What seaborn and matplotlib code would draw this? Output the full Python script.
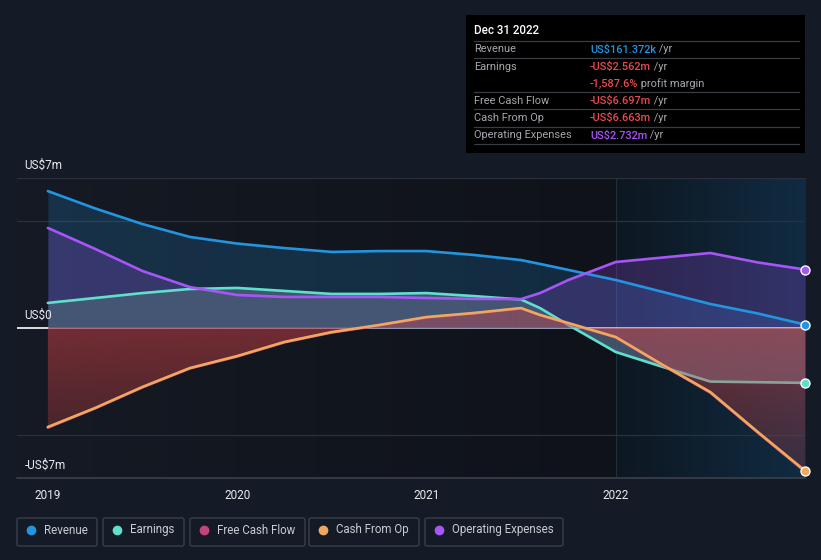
import numpy as np
import pandas as pd
import matplotlib
matplotlib.use("Agg")
import matplotlib.pyplot as plt
from matplotlib.colors import to_rgb
from matplotlib.patches import FancyBboxPatch, Rectangle
import seaborn as sns

# ---------------- data (US$ millions) ----------------
years = [2019.0, 2019.25, 2019.5, 2019.75, 2020.0, 2020.25, 2020.5, 2020.75,
         2021.0, 2021.25, 2021.5, 2021.6, 2021.75, 2022.0, 2022.25, 2022.5,
         2022.75, 2023.0]
revenue = [6.39, 5.58, 4.85, 4.25, 3.94, 3.73, 3.55, 3.59, 3.59, 3.41, 3.17,
           2.99, 2.71, 2.24, 1.68, 1.12, 0.68, 0.16]
earnings = [1.17, 1.40, 1.63, 1.82, 1.87, 1.73, 1.59, 1.59, 1.63, 1.49, 1.33,
            0.93, 0.14, -1.12, -1.82, -2.50, -2.53, -2.56]
free_cash_flow = [-4.65, -3.75, -2.77, -1.89, -1.33, -0.67, -0.21, 0.12, 0.49,
                  0.68, 0.91, 0.59, 0.21, -0.44, -1.75, -3.02, -4.88, -6.70]
cash_from_op = [-4.62, -3.73, -2.75, -1.87, -1.31, -0.65, -0.19, 0.14, 0.51,
                0.70, 0.93, 0.61, 0.23, -0.42, -1.73, -2.99, -4.85, -6.66]
operating_expenses = [4.67, 3.69, 2.66, 1.91, 1.54, 1.45, 1.45, 1.45, 1.40,
                      1.36, 1.35, 1.63, 2.24, 3.08, 3.29, 3.50, 3.06, 2.73]

series_names = ["Revenue", "Earnings", "Free Cash Flow", "Cash From Op",
                "Operating Expenses"]
series_colors = ["#2394df", "#5fe0cc", "#c2457c", "#f0a85e", "#a855f7"]
year_ticks = [2019, 2020, 2021, 2022]
year_labels = ["2019", "2020", "2021", "2022"]
y_ticks = [7, 0, -7]
y_labels = ["US$7m", "US$0", "-US$7m"]

tooltip_title = "Dec 31 2022"
tooltip_rows = [
    ("Revenue", "US$161.372k", " /yr", "#2394df"),
    ("Earnings", "-US$2.562m", " /yr", "#e84c4c"),
    ("", "-1,587.6%", " profit margin", "#e84c4c"),
    ("Free Cash Flow", "-US$6.697m", " /yr", "#e84c4c"),
    ("Cash From Op", "-US$6.663m", " /yr", "#e84c4c"),
    ("Operating Expenses", "US$2.732m", " /yr", "#a855f7"),
]

values = [revenue, earnings, free_cash_flow, cash_from_op, operating_expenses]
df = pd.concat([pd.DataFrame({"year": years, "value": v, "series": n})
                for n, v in zip(series_names, values)], ignore_index=True)

# ---------------- style ----------------
sns.set_theme(style="dark")
plt.rcParams["font.family"] = ["Roboto", "DejaVu Sans"]
BG = "#151b26"

fig = plt.figure(figsize=(8.21, 5.60), dpi=100, facecolor=BG)
W, H = 821, 560
ax = fig.add_axes([17 / W, 1 - 478 / H, (805 - 17) / W, 300 / H])
ax.set_facecolor(BG)
x0, x1 = 2018.837, 2023.0
ax.set_xlim(x0, x1)
ax.set_ylim(-7, 7)

def hgrad(c_left, c_right, n=256):
    a = np.array(to_rgb(c_left)); b = np.array(to_rgb(c_right))
    t = np.linspace(0, 1, n)[None, :, None]
    return a + (b - a) * t

ax.imshow(hgrad("#151a24", "#0f1219"), extent=[x0, 2022.0, -7, 7],
          aspect="auto", zorder=0, interpolation="bilinear")
ax.imshow(hgrad("#0d1721", "#112b42"), extent=[2022.0, x1, -7, 7],
          aspect="auto", zorder=0, interpolation="bilinear")
ax.axvline(2022.0, color="#1f2e3c", lw=0.8, zorder=0.5)

for gy in [7, 5, -5]:
    ax.axhline(gy, color="#2a313c", lw=0.9, zorder=0.6)
ax.axhline(-7, color="#3a414c", lw=1.2, zorder=0.6, clip_on=False)
ax.axhline(0, color="#ffffff", lw=1.2, zorder=0.8)

col = dict(zip(series_names, series_colors))
ax.fill_between(years, revenue, 0, color=col["Revenue"], alpha=0.20, lw=0, zorder=1)
ax.fill_between(years, operating_expenses, 0, color=col["Operating Expenses"],
                alpha=0.22, lw=0, zorder=1.1)
ax.fill_between(years, earnings, 0, color="#485c76", alpha=0.85, lw=0, zorder=1.2)

# gradient red fill for free cash flow
poly = ax.fill_between(years, free_cash_flow, 0, color="none", lw=0, zorder=3)
ny = 300
yy = np.linspace(7, -7, ny)
rgba = np.zeros((ny, 2, 4))
rgba[..., :3] = to_rgb("#d24246")
alpha = np.where(yy >= 0, 0.38, 0.50 - 0.32 * (-yy / 7.0))
rgba[..., 3] = alpha[:, None]
im = ax.imshow(rgba, extent=[x0, x1, -7, 7], aspect="auto", zorder=3,
               interpolation="bilinear")
im.set_clip_path(poly.get_paths()[0], transform=ax.transData)

zorders = {"Revenue": 4, "Earnings": 2, "Free Cash Flow": 4, "Cash From Op": 5,
           "Operating Expenses": 6}
for name in series_names:
    sub = df[df["series"] == name]
    sns.lineplot(data=sub, x="year", y="value", ax=ax, color=col[name], lw=1.9,
                 legend=False, zorder=zorders[name], solid_capstyle="round",
                 solid_joinstyle="round")
    if name != "Free Cash Flow":
        ax.scatter([sub["year"].iloc[-1]], [sub["value"].iloc[-1]], s=42,
                   color=col[name], edgecolor="white", linewidth=1.0,
                   zorder=10, clip_on=False)

ax.set_xlabel(""); ax.set_ylabel("")
for s in ax.spines.values():
    s.set_visible(False)
ax.set_xticks(year_ticks)
ax.set_xticklabels(year_labels, color="#e8eaee", fontsize=8.5)
ax.tick_params(axis="x", length=4, color="#3a414c", pad=4, width=1)
ax.set_yticks([])
for v, lab in zip(y_ticks, y_labels):
    ax.text(2018.877, v + 0.28, lab, color="#e8eaee", fontsize=8.5,
            ha="left", va="bottom", zorder=11)

# ---------------- tooltip ----------------
fig.patches.append(Rectangle((466 / W, 1 - 153 / H), (805 - 466) / W, 138 / H,
                             transform=fig.transFigure, facecolor="#000000",
                             edgecolor="none", zorder=20))
fig.text(474 / W, 1 - 31 / H, tooltip_title, color="white", fontsize=8.3,
         fontweight="medium", va="center", zorder=21)
for yl in [41, 58, 92, 109, 126.5, 144]:
    fig.add_artist(plt.Line2D([474 / W, 799 / W], [1 - yl / H, 1 - yl / H],
                              color="#3a3d44", lw=0.9, zorder=21))
row_y = [49.5, 66.5, 83.5, 100.5, 118, 135.5]
fig.canvas.draw()
renderer = fig.canvas.get_renderer()
for (lab, val, suf, c), yl in zip(tooltip_rows, row_y):
    if lab:
        fig.text(474 / W, 1 - yl / H, lab, color="#a4a8ae", fontsize=7.9,
                 va="center", zorder=21)
    t = fig.text(590 / W, 1 - yl / H, val, color=c, fontsize=7.9,
                 va="center", zorder=21, fontweight="medium")
    bb = t.get_window_extent(renderer=renderer)
    fig.text(bb.x1 / W, 1 - yl / H, suf, color="#a4a8ae", fontsize=7.9,
             va="center", zorder=21)

# ---------------- legend ----------------
boxes = [(17, 97), (103, 184), (190, 305), (309, 419), (425, 563)]
for (bx0, bx1), name in zip(boxes, series_names):
    fig.patches.append(FancyBboxPatch((bx0 / W, 1 - 546 / H), (bx1 - bx0) / W,
                                      28 / H, boxstyle="round,pad=0,rounding_size=0.003",
                                      transform=fig.transFigure, facecolor="none",
                                      edgecolor="#3a404a", lw=1.0))
    fig.add_artist(plt.Line2D([(bx0 + 14) / W], [1 - 530 / H], marker="o",
                              markersize=6, color=col[name], lw=0))
    fig.text((bx0 + 27) / W, 1 - 530 / H, name, color="#c8ccd2", fontsize=8.3,
             va="center")

fig.savefig("out.png", dpi=100, facecolor=BG)
